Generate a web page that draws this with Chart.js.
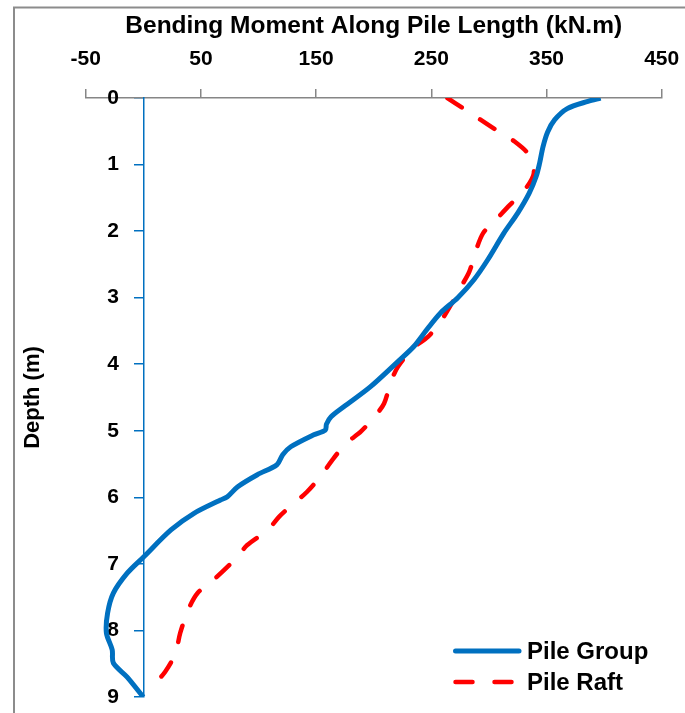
<!DOCTYPE html>
<html>
<head>
<meta charset="utf-8">
<script src="https://cdn.jsdelivr.net/npm/chart.js@4.4.1/dist/chart.umd.min.js"></script>
<style>
  html, body { margin: 0; padding: 0; background: #ffffff; }
  #wrap { width: 685px; height: 713px; position: relative; }
</style>
</head>
<body>
<div id="wrap"><canvas id="c" width="685" height="713"></canvas></div>
<script>
// ---- Data ----
const xTickValues = [-50, 50, 150, 250, 350, 450];
const depthTicks = [0, 1, 2, 3, 4, 5, 6, 7, 8, 9];

const seriesNames = ['Pile Group', 'Pile Raft'];

const groupMoment = [397, 386, 368, 357, 351, 347, 344, 341, 335, 325, 313, 299, 287, 273, 258, 247, 235, 221, 197, 174, 163, 159, 158, 148, 128, 121, 116, 99, 82, 73, 67, 44, 24, 0, -14, -26, -31, -32, -27, -26, -14, 0];
const groupDepth  = [0, 0.05, 0.16, 0.33, 0.51, 0.73, 0.98, 1.18, 1.43, 1.73, 2.03, 2.43, 2.73, 3.0, 3.23, 3.46, 3.73, 3.96, 4.34, 4.64, 4.79, 4.9, 4.99, 5.06, 5.24, 5.36, 5.51, 5.66, 5.84, 5.99, 6.04, 6.24, 6.49, 6.9, 7.14, 7.44, 7.74, 8.04, 8.29, 8.49, 8.7, 9.0];

const raftMoment = [264, 278, 293, 308, 322, 335, 339, 331, 318, 306, 295, 289, 283, 276, 266, 258, 247, 234, 221, 215, 209, 202, 189, 176, 164, 155, 142, 132, 118, 108, 90, 82, 61, 47, 39, 32, 28, 19, 9, 6];
const raftDepth  = [0, 0.16, 0.33, 0.5, 0.65, 0.86, 1.13, 1.38, 1.61, 1.83, 2.03, 2.28, 2.61, 2.83, 3.14, 3.36, 3.59, 3.76, 4.04, 4.26, 4.59, 4.76, 5.01, 5.19, 5.44, 5.66, 5.92, 6.07, 6.29, 6.49, 6.72, 6.89, 7.24, 7.44, 7.69, 8.04, 8.34, 8.62, 8.82, 8.88];

const FONT = "'Liberation Sans', Arial, sans-serif";
const BLUE = '#0070C0';
const RED = '#FF0000';

function toPoints(xs, ys) { return xs.map((v, i) => ({ x: v, y: ys[i] })); }
function noLabelPadding(scale) {
  scale.paddingTop = 0; scale.paddingBottom = 0;
  scale.paddingLeft = 0; scale.paddingRight = 0;
}

// Outer chart border (Excel chart area frame)
const framePlugin = {
  id: 'frame',
  beforeDraw(chart) {
    const ctx = chart.ctx;
    ctx.save();
    ctx.strokeStyle = '#8C8C8C';
    ctx.lineWidth = 2;
    ctx.strokeRect(14, 7.5, 720, 740);
    ctx.restore();
  }
};

// Legend drawn inside the plot area (lower right)
const insideLegend = {
  id: 'insideLegend',
  afterDraw(chart) {
    const ctx = chart.ctx;
    const x0 = 455.5, x1 = 519, tx = 527;
    const rows = [651, 682];
    ctx.save();
    chart.data.datasets.forEach((ds, i) => {
      const y = rows[i];
      ctx.beginPath();
      ctx.strokeStyle = ds.borderColor;
      ctx.lineWidth = ds.borderWidth;
      ctx.lineCap = 'round';
      ctx.setLineDash(ds.borderDash || []);
      ctx.moveTo(x0, y);
      ctx.lineTo(x1, y);
      ctx.stroke();
      ctx.setLineDash([]);
      ctx.fillStyle = '#000';
      ctx.font = 'bold 24px ' + FONT;
      ctx.textBaseline = 'middle';
      ctx.textAlign = 'left';
      ctx.fillText(ds.label, tx, y + 1);
    });
    ctx.restore();
  }
};

new Chart(document.getElementById('c'), {
  type: 'scatter',
  data: {
    datasets: [
      {
        label: seriesNames[0],
        data: toPoints(groupMoment, groupDepth),
        showLine: true,
        borderColor: BLUE,
        backgroundColor: BLUE,
        borderWidth: 5,
        pointRadius: 0,
        tension: 0.3,
        fill: false
      },
      {
        label: seriesNames[1],
        data: toPoints(raftMoment, raftDepth),
        showLine: true,
        borderColor: RED,
        backgroundColor: RED,
        borderWidth: 4.5,
        borderDash: [17, 22],
        borderCapStyle: 'round',
        pointRadius: 0,
        tension: 0.3,
        fill: false
      }
    ]
  },
  options: {
    responsive: false,
    animation: false,
    layout: { autoPadding: false, padding: { left: 14, right: 23.3, top: 0, bottom: 16 } },
    plugins: {
      legend: { display: false },
      tooltip: { enabled: false }
    },
    scales: {
      x: {
        type: 'linear',
        position: 'top',
        min: -50,
        max: 450,
        afterBuildTicks: (s) => { s.ticks = xTickValues.map(v => ({ value: v })); },
        afterFit: noLabelPadding,
        grid: { drawOnChartArea: false, drawTicks: true, tickLength: 9, color: '#868686', lineWidth: 1.5 },
        border: { display: true, color: '#868686', width: 1.5 },
        ticks: { font: { family: FONT, size: 21, weight: 'bold' }, color: '#000', padding: 17, maxRotation: 0, autoSkip: false },
        title: {
          display: true,
          text: 'Bending Moment Along Pile Length (kN.m)',
          font: { family: FONT, size: 24.5, weight: 'bold' },
          color: '#000',
          padding: { top: 12, bottom: -11.6 }
        }
      },
      y: {
        type: 'linear',
        position: { x: 0 },
        reverse: true,
        min: 0,
        max: 9,
        afterBuildTicks: (s) => { s.ticks = depthTicks.map(v => ({ value: v })); },
        afterFit: noLabelPadding,
        grid: { drawOnChartArea: false, drawTicks: true, tickLength: 9, color: BLUE, lineWidth: 1.5 },
        border: { display: true, color: BLUE, width: 1.5 },
        ticks: { display: false }
      },
      yLabels: {
        type: 'linear',
        position: 'left',
        reverse: true,
        min: 0,
        max: 9,
        afterBuildTicks: (s) => { s.ticks = depthTicks.map(v => ({ value: v })); },
        afterFit: noLabelPadding,
        grid: { display: false, drawTicks: false },
        border: { display: false },
        ticks: { mirror: true, padding: 21.6, font: { family: FONT, size: 21, weight: 'bold' }, color: '#000' },
        title: {
          display: true,
          text: 'Depth (m)',
          font: { family: FONT, size: 22, weight: 'bold' },
          color: '#000',
          padding: { top: 5.8, bottom: -3.7 }
        }
      }
    }
  },
  plugins: [framePlugin, insideLegend]
});
</script>
</body>
</html>
